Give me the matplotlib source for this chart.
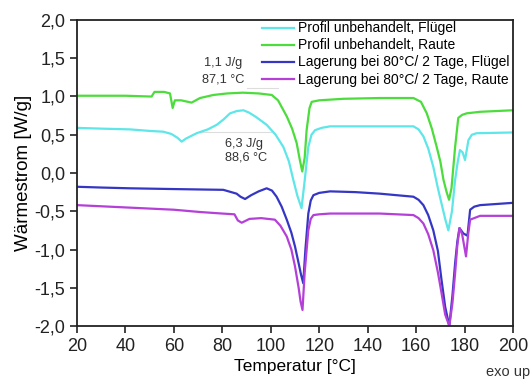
import matplotlib
matplotlib.use('Agg')
import matplotlib.pyplot as plt
from matplotlib.ticker import FuncFormatter

plt.rcParams['font.family'] = ['Liberation Sans', 'DejaVu Sans']

# DSC curves (T in °C, heat flow in W/g)
t_fl = [20, 30, 41.9, 50, 55.6, 59, 61.5, 63.2, 65, 69.4, 74, 77.7, 80.5, 83.2, 86, 88.7, 91, 94, 98.3, 102,
        105.2, 107.5, 109.3, 111, 112.7, 114, 115.5, 116.8, 118.3, 121, 124.5, 135, 145, 158.9, 161, 163, 165,
        167.1, 169, 170.5, 172, 173.3, 174.8, 176.1, 177.2, 178.1, 179.2, 180.2, 181.6, 183, 185, 200]
v_fl = [0.59, 0.58, 0.57, 0.55, 0.54, 0.51, 0.46, 0.41, 0.45, 0.52, 0.57, 0.63, 0.70, 0.78, 0.81, 0.82, 0.79,
        0.73, 0.63, 0.50, 0.34, 0.15, -0.09, -0.30, -0.46, -0.1, 0.34, 0.50, 0.56, 0.59, 0.61, 0.61, 0.61, 0.61,
        0.57, 0.48, 0.32, 0.08, -0.2, -0.40, -0.6, -0.75, -0.5, -0.09, 0.15, 0.30, 0.27, 0.17, 0.43, 0.50, 0.52, 0.53]

t_ra = [20, 30, 40, 50, 50.8, 52, 56, 58.4, 59.5, 60.4, 63, 67.3, 70.8, 76.3, 82, 88.5, 95, 100.4, 103, 106.6,
        108.8, 110.7, 112, 113, 114, 114.8, 116, 116.9, 120, 130, 145, 158.9, 162, 164.4, 166.5, 168.5, 170,
        171.3, 172.6, 173.6, 174.6, 176.1, 177.4, 179, 180.9, 186.4, 200]
v_ra = [1.01, 1.01, 1.01, 1.0, 1.0, 1.06, 1.06, 1.04, 0.85, 0.95, 0.95, 0.92, 0.98, 1.02, 1.04, 1.05, 1.04,
        1.02, 0.95, 0.74, 0.58, 0.39, 0.17, 0.02, 0.2, 0.56, 0.85, 0.93, 0.95, 0.97, 0.98, 0.98, 0.93, 0.78,
        0.58, 0.34, 0.15, -0.09, -0.25, -0.35, -0.2, 0.34, 0.72, 0.76, 0.78, 0.80, 0.82]

t_lfl = [20, 30, 41.9, 60, 80.4, 85.9, 87.5, 89.4, 91.9, 95, 98.3, 100.5, 102.4, 104.5, 106.6, 108.5, 110,
         111.5, 112.5, 113.4, 114.3, 115.5, 116.5, 117.6, 120, 124.5, 135, 145, 158.9, 161, 163, 165, 167.1,
         169, 170.5, 172, 173.7, 175, 176.1, 177, 177.9, 179.5, 181.2, 182.3, 184, 186.4, 200]
v_lfl = [-0.18, -0.19, -0.20, -0.21, -0.22, -0.27, -0.31, -0.34, -0.29, -0.24, -0.20, -0.23, -0.31, -0.44,
         -0.61, -0.78, -0.96, -1.18, -1.33, -1.44, -1.0, -0.53, -0.36, -0.29, -0.26, -0.24, -0.25, -0.27,
         -0.31, -0.35, -0.42, -0.55, -0.75, -1.02, -1.40, -1.75, -2.0, -1.6, -1.18, -0.9, -0.72, -0.79, -0.82,
         -0.48, -0.44, -0.42, -0.39]

t_lra = [20, 40, 60, 70.8, 80, 85, 86.4, 88, 91.2, 96, 101.7, 104, 106.6, 108.5, 110, 111.5, 112.3, 113.1,
         114, 115.5, 116.5, 117.6, 120, 124.5, 145, 158.9, 161, 163, 165, 167.1, 169, 170.5, 172, 173.7, 175,
         176.1, 177, 177.9, 179, 180.6, 181.5, 182.3, 186.4, 200]
v_lra = [-0.42, -0.45, -0.48, -0.51, -0.53, -0.54, -0.62, -0.65, -0.60, -0.59, -0.61, -0.69, -0.83, -1.0,
         -1.22, -1.5, -1.68, -1.79, -1.3, -0.75, -0.60, -0.55, -0.54, -0.53, -0.53, -0.55, -0.59, -0.66, -0.8,
         -1.01, -1.3, -1.57, -1.85, -2.0, -1.7, -1.31, -0.95, -0.72, -0.80, -1.09, -0.8, -0.61, -0.56, -0.56]

labels = ['Profil unbehandelt, Flügel', 'Profil unbehandelt, Raute',
          'Lagerung bei 80°C/ 2 Tage, Flügel', 'Lagerung bei 80°C/ 2 Tage, Raute']
colors = ['#5ee6e8', '#4cdc3c', '#3636c4', '#b440d8']

fig = plt.figure(figsize=(5.32, 3.83), dpi=100)
ax = fig.add_axes([0.1447, 0.1488, 0.8196, 0.799])

for t, v, lab, c in zip([t_fl, t_ra, t_lfl, t_lra], [v_fl, v_ra, v_lfl, v_lra], labels, colors):
    ax.plot(t, v, color=c, lw=1.6, label=lab)

# faint integration baselines
ax.plot([70.8, 100], [0.53, 0.53], color='#dddddd', lw=0.8, zorder=0)
ax.plot([90, 103], [1.11, 1.11], color='#dddddd', lw=0.8, zorder=0)

ax.text(80.3, 1.44, '1,1 J/g', fontsize=9.2, ha='center', va='center', color='#333333')
ax.text(80.3, 1.22, '87,1 °C', fontsize=9.2, ha='center', va='center', color='#333333')
ax.text(81.1, 0.38, '6,3 J/g', fontsize=9.2, ha='left', va='center', color='#333333')
ax.text(81.1, 0.20, '88,6 °C', fontsize=9.2, ha='left', va='center', color='#333333')

ax.set_xlim(20, 200)
ax.set_ylim(-2.0, 2.0)
ax.set_xticks(range(20, 201, 20))
ax.set_yticks([-2.0, -1.5, -1.0, -0.5, 0.0, 0.5, 1.0, 1.5, 2.0])
ax.yaxis.set_major_formatter(FuncFormatter(lambda y, p: ('%.1f' % y).replace('.', ',')))
ax.tick_params(labelsize=13, direction='out', length=5, width=1.2, colors='#222222')
for s in ax.spines.values():
    s.set_linewidth(1.3)
    s.set_color('#222222')

ax.set_xlabel('Temperatur [°C]', fontsize=12.5, labelpad=3)
ax.set_ylabel('Wärmestrom [W/g]', fontsize=13.5, labelpad=2)
fig.text(0.997, 0.028, 'exo up', fontsize=10.5, ha='right', va='center', color='#333333')

ax.legend(loc='upper right', bbox_to_anchor=(0.995, 1.0), frameon=False, fontsize=10,
          handlelength=2.3, handletextpad=0.3, labelspacing=0.22, borderaxespad=0.0, borderpad=0.1)

fig.savefig('out.png', dpi=100)
